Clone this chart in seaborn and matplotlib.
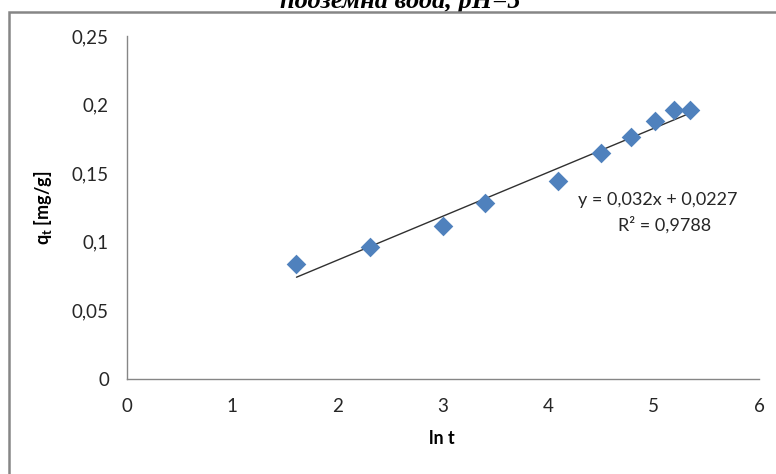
import numpy as np
import pandas as pd
import matplotlib
matplotlib.use("Agg")
import matplotlib.pyplot as plt
from matplotlib.patches import Rectangle
import seaborn as sns

# ---- data ----
ln_t = [1.609, 2.303, 2.996, 3.401, 4.094, 4.500, 4.787, 5.011, 5.193, 5.347]
q_t = [0.0838, 0.0964, 0.1117, 0.1280, 0.1443, 0.1645, 0.1766, 0.1880, 0.1960, 0.1960]
fit_slope = 0.032
fit_intercept = 0.0227
x_ticks = [0, 1, 2, 3, 4, 5, 6]
y_ticks = [0, 0.05, 0.1, 0.15, 0.2, 0.25]
y_tick_labels = ["0", "0,05", "0,1", "0,15", "0,2", "0,25"]
title_text = "подземна вода, pH=5"
eq_text = "y = 0,032x + 0,0227"
r2_text = "R² = 0,9788"
x_label = "ln t"
y_label = r"$\mathbf{q_t}$ [mg/g]"

sns.set_style("white")
plt.rcParams["font.family"] = ["Lato", "DejaVu Sans"]
plt.rcParams["mathtext.fontset"] = "custom"
plt.rcParams["mathtext.rm"] = "Lato"
plt.rcParams["mathtext.bf"] = "Lato:bold"
plt.rcParams["mathtext.it"] = "Lato:italic"

df = pd.DataFrame({"ln_t": ln_t, "q_t": q_t})
x_fit = np.array([min(ln_t), max(ln_t)])
fit_df = pd.DataFrame({"x": x_fit, "y": fit_slope * x_fit + fit_intercept})

fig = plt.figure(figsize=(7.76, 4.74), dpi=100)
ax = fig.add_axes([127 / 776, 1 - 379 / 474, 632 / 776, 343 / 474])

sns.lineplot(data=fit_df, x="x", y="y", ax=ax, color="#303030", linewidth=1.0)
sns.scatterplot(data=df, x="ln_t", y="q_t", ax=ax, marker="D", s=100,
                color="#4F81BD", linewidth=0, zorder=3)

ax.set_xlim(0, 6)
ax.set_ylim(0, 0.25)
ax.set_xticks(x_ticks)
ax.set_xticklabels([str(v) for v in x_ticks])
ax.set_yticks(y_ticks)
ax.set_yticklabels(y_tick_labels)

for side in ["top", "right"]:
    ax.spines[side].set_visible(False)
for side in ["left", "bottom"]:
    ax.spines[side].set_color("#868686")
    ax.spines[side].set_linewidth(1.0)

ax.tick_params(axis="both", which="major", direction="out", length=5, width=1.0,
               color="#868686", labelsize=13.5, labelcolor="#262626")
ax.tick_params(axis="x", pad=9)
ax.tick_params(axis="y", pad=8)

ax.set_xlabel(x_label, fontsize=13, fontweight="bold", color="black")
ax.set_ylabel(y_label, fontsize=13, fontweight="bold", color="black")
ax.xaxis.set_label_coords(0.499, -0.15)
ax.yaxis.set_label_coords(-0.115, 0.5)

ax.text(5.04, 0.1305, eq_text, fontsize=13, color="#262626", ha="center", va="center")
ax.text(5.10, 0.112, r2_text, fontsize=13, color="#262626", ha="center", va="center")

# outer chart frame (partially visible)
fig.patches.append(Rectangle((8.5 / 776, -0.05), 1.0, 1 - 12 / 474 + 0.05,
                             transform=fig.transFigure, fill=False,
                             edgecolor="#868686", linewidth=1.8, zorder=5))

fig.text(400 / 776, 1 - 8 / 474, title_text, fontsize=19, fontweight="bold",
         fontstyle="italic", family=["Liberation Serif", "DejaVu Serif"],
         ha="center", va="baseline", color="black")

fig.savefig("out.png", dpi=100)
